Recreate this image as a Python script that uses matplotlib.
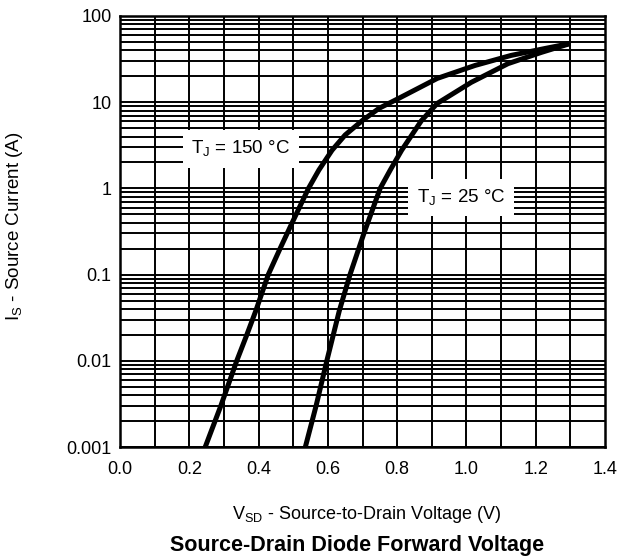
import numpy as np
import matplotlib
matplotlib.use("Agg")
import matplotlib.pyplot as plt

plt.rcParams['font.family'] = ['Liberation Sans', 'DejaVu Sans']
plt.rcParams['mathtext.fontset'] = 'custom'
plt.rcParams['mathtext.rm'] = 'Liberation Sans'

# curve readings (V, A)
v_150 = [0.246, 0.291, 0.337, 0.365, 0.392, 0.428, 0.462, 0.497, 0.544, 0.574, 0.612,
         0.650, 0.699, 0.748, 0.805, 0.916, 1.025, 1.129, 1.227, 1.30]
i_150 = [0.001, 0.003, 0.01, 0.0195, 0.038, 0.1, 0.2, 0.4, 1.0, 1.63, 2.77,
         4.17, 6.1, 8.5, 11.1, 18.9, 26.7, 34.9, 42.0, 48.0]

v_25 = [0.535, 0.566, 0.597, 0.615, 0.633, 0.664, 0.704, 0.751, 0.780, 0.813,
        0.870, 0.916, 1.014, 1.120, 1.216, 1.30]
i_25 = [0.001, 0.003, 0.01, 0.0195, 0.038, 0.1, 0.3, 1.0, 1.63, 2.77,
        6.1, 9.7, 17.0, 28.0, 37.8, 48.0]

x_ticks = [0.0, 0.2, 0.4, 0.6, 0.8, 1.0, 1.2, 1.4]
y_ticks = [0.001, 0.01, 0.1, 1, 10, 100]
y_ticklabels = ['0.001', '0.01', '0.1', '1', '10', '100']

fig = plt.figure(figsize=(6.3, 5.59), dpi=100)
ax = fig.add_axes([120/630, 1 - 447/559, 485/630, 431/559])

ax.set_yscale('log')
ax.set_xlim(0, 1.4)
ax.set_ylim(0.001, 100)

# grid: every 0.1 V and every minor decade step
for xv in np.arange(0.1, 1.4, 0.1):
    ax.axvline(xv, color='black', lw=1.4, zorder=1)
for dec in [0.001, 0.01, 0.1, 1, 10]:
    for m in range(1, 10):
        ax.axhline(dec * m, color='black', lw=1.4, zorder=1)

ax.plot(v_150, i_150, color='black', lw=3.6, zorder=3, solid_capstyle='butt', solid_joinstyle='round')
ax.plot(v_25, i_25, color='black', lw=3.6, zorder=3, solid_capstyle='butt', solid_joinstyle='round')

bbox = dict(boxstyle='square,pad=0.45', fc='white', ec='none')
ax.text(0.349, 2.86, r'T$_\mathregular{J}$ = 150 °C', ha='center', va='center',
        fontsize=13.5, bbox=bbox, zorder=4)
ax.text(0.984, 0.78, r'T$_\mathregular{J}$ = 25 °C', ha='center', va='center',
        fontsize=13.5, bbox=bbox, zorder=4)

ax.set_xticks(x_ticks)
ax.set_xticklabels([f'{x:.1f}' for x in x_ticks])
ax.set_yticks(y_ticks)
ax.set_yticklabels(y_ticklabels)
ax.yaxis.set_minor_locator(matplotlib.ticker.NullLocator())
ax.tick_params(length=0, labelsize=13)
ax.tick_params(axis='y', pad=6)
ax.tick_params(axis='x', pad=10)
for s in ax.spines.values():
    s.set_linewidth(1.8)

fig.text(15/630, 1 - 226/559, r'I$_\mathregular{S}$ - Source Current (A)', rotation=90,
         ha='center', va='center', fontsize=13.5)
fig.text(367/630, 1 - 519/559, r'V$_\mathregular{SD}$ - Source-to-Drain Voltage (V)',
         ha='center', va='baseline', fontsize=13)
fig.text(357/630, 1 - 551.5/559, 'Source-Drain Diode Forward Voltage',
         ha='center', va='baseline', fontsize=15.5, fontweight='bold')

fig.savefig('out.png', dpi=100)
